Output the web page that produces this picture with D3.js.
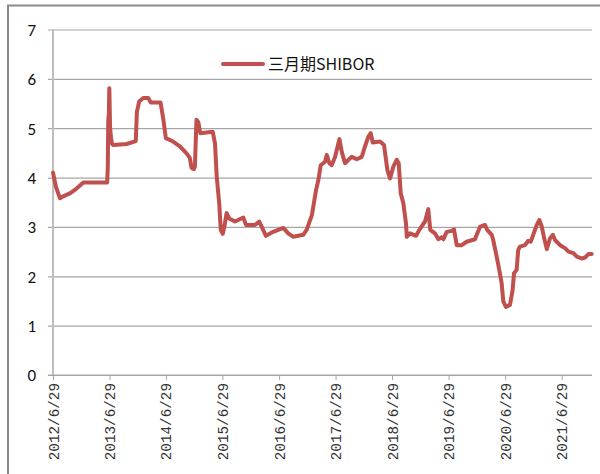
<!DOCTYPE html>
<html>
<head>
<meta charset="utf-8">
<script src="https://cdn.jsdelivr.net/npm/d3@7/dist/d3.min.js"></script>
<style>
  html, body { margin: 0; padding: 0; background: #fff; }
  svg { display: block; }
</style>
</head>
<body>
<svg id="chart" width="600" height="474"></svg>
<script>
// 3-month SHIBOR, %
const dates = [
  "2012-06-29","2012-07-18","2012-08-13","2012-09-03","2012-10-16","2012-11-17","2013-01-11",
  "2013-06-14","2013-06-18","2013-06-21","2013-06-25","2013-06-28","2013-07-03","2013-07-09","2013-07-16","2013-07-25",
  "2013-10-17","2013-12-16","2013-12-23","2014-01-07","2014-02-02","2014-03-07","2014-03-23","2014-05-25",
  "2014-06-11","2014-06-28","2014-08-14","2014-09-27","2014-11-09","2014-11-30","2014-12-11","2014-12-26",
  "2015-01-02","2015-01-12","2015-01-24","2015-02-06","2015-04-27","2015-05-12","2015-05-23","2015-06-08",
  "2015-06-18","2015-07-01","2015-07-11","2015-07-26","2015-08-12","2015-09-18","2015-11-11","2015-11-28",
  "2016-01-25","2016-02-22","2016-03-09","2016-04-05","2016-05-22","2016-07-26","2016-08-27","2016-09-29",
  "2016-12-02","2016-12-24","2017-01-27","2017-02-23","2017-03-10","2017-03-25","2017-04-22","2017-05-03",
  "2017-05-20","2017-06-04","2017-06-26","2017-07-24","2017-08-08","2017-08-29","2017-09-20","2017-10-12",
  "2017-11-13","2017-12-15","2018-01-05","2018-01-27","2018-02-11","2018-02-24","2018-04-12","2018-05-08",
  "2018-05-30","2018-06-16","2018-07-07","2018-07-29","2018-08-11","2018-08-24","2018-09-10","2018-09-27",
  "2018-10-02","2018-10-23","2018-12-01","2018-12-22","2019-01-28","2019-02-18","2019-03-03","2019-04-02",
  "2019-04-24","2019-05-16","2019-05-27","2019-06-17","2019-07-20","2019-08-03","2019-08-21","2019-09-22",
  "2019-10-24","2019-12-17","2019-12-28","2020-01-18","2020-02-19","2020-03-05","2020-04-03","2020-04-13",
  "2020-05-05","2020-05-26","2020-06-06","2020-06-17","2020-07-04","2020-07-30","2020-08-16","2020-08-25",
  "2020-09-11","2020-09-21","2020-10-02","2020-11-04","2020-11-25","2020-12-11","2020-12-27","2021-01-19",
  "2021-02-05","2021-02-21","2021-03-08","2021-03-25","2021-04-15","2021-05-03","2021-05-18","2021-06-19",
  "2021-07-21","2021-08-12","2021-09-13","2021-10-05","2021-11-06","2021-11-27","2021-12-19","2022-01-09"
];
const rates = [
  4.10, 3.81, 3.58, 3.62, 3.68, 3.75, 3.90,
  3.90, 4.20, 5.15, 5.30, 5.81, 5.00, 4.80, 4.68, 4.66,
  4.68, 4.74, 5.33, 5.54, 5.61, 5.61, 5.52, 5.52,
  5.20, 4.80, 4.73, 4.63, 4.49, 4.40, 4.20, 4.17,
  4.22, 5.17, 5.12, 4.90, 4.93, 4.69, 4.02, 3.48,
  2.94, 2.86, 3.00, 3.28, 3.17, 3.11, 3.19, 3.04,
  3.04, 3.11, 3.00, 2.82, 2.90, 2.98, 2.87, 2.80,
  2.84, 2.94, 3.24, 3.75, 3.95, 4.25, 4.32, 4.46,
  4.29, 4.25, 4.42, 4.78, 4.52, 4.29, 4.36, 4.42,
  4.37, 4.42, 4.63, 4.83, 4.90, 4.71, 4.73, 4.66,
  4.15, 3.98, 4.22, 4.36, 4.29, 3.68, 3.48, 3.07,
  2.80, 2.87, 2.82, 2.94, 3.11, 3.36, 2.94, 2.87,
  2.75, 2.79, 2.75, 2.90, 2.92, 2.95, 2.63, 2.63,
  2.70, 2.75, 2.84, 3.00, 3.04, 2.94, 2.84, 2.73,
  2.40, 2.06, 1.86, 1.49, 1.38, 1.42, 1.72, 2.06,
  2.13, 2.53, 2.60, 2.63, 2.72, 2.70, 2.84, 3.04,
  3.14, 3.00, 2.77, 2.55, 2.77, 2.84, 2.73, 2.63,
  2.57, 2.50, 2.47, 2.40, 2.36, 2.38, 2.45, 2.45
];
const tickDates = ["2012-06-29","2013-06-29","2014-06-29","2015-06-29","2016-06-29",
                   "2017-06-29","2018-06-29","2019-06-29","2020-06-29","2021-06-29"];
const yTicks = [0, 1, 2, 3, 4, 5, 6, 7];
const seriesName = "三月期SHIBOR";

const parse = d3.timeParse("%Y-%m-%d");
const fmt = d3.timeFormat("%Y/%-m/%-d");
const data = dates.map((d, i) => ({ date: parse(d), value: rates[i] }));

const svg = d3.select("#chart");
const plotLeft = 53, plotRight = 592, plotTop = 29.5, plotBottom = 375;

// outer chart frame
svg.append("rect")
  .attr("x", 8).attr("y", 5.5).attr("width", 600).attr("height", 480)
  .attr("fill", "none").attr("stroke", "#8a8a8a").attr("stroke-width", 2);

const x = d3.scaleTime()
  .domain([parse("2012-06-29"), parse("2022-01-11")])
  .range([plotLeft, plotRight]);
const y = d3.scaleLinear().domain([0, 7]).range([plotBottom, plotTop]);

// horizontal gridlines with outer tick stubs
const yAxis = d3.axisLeft(y).tickValues(yTicks).tickSizeOuter(0)
  .tickFormat(d3.format("d"));
const gy = svg.append("g").attr("transform", `translate(${plotLeft},0)`).call(yAxis);
gy.select(".domain").remove();
gy.selectAll(".tick line").attr("stroke", "#a6a6a6").attr("stroke-width", 1.2)
  .attr("x1", -5).attr("x2", plotRight - plotLeft);
gy.selectAll(".tick text")
  .attr("x", -17).attr("dy", "0.35em")
  .style("font-family", "Carlito, Lato, 'Open Sans', sans-serif")
  .style("font-size", "17px").attr("fill", "#111");

// vertical axis line
svg.append("line").attr("x1", plotLeft).attr("x2", plotLeft).attr("y1", plotTop).attr("y2", plotBottom)
  .attr("stroke", "#bfbfbf").attr("stroke-width", 2);

// x axis
const xAxis = d3.axisBottom(x).tickValues(tickDates.map(parse)).tickFormat(fmt)
  .tickSize(5).tickSizeOuter(0);
const gx = svg.append("g").attr("transform", `translate(0,${plotBottom})`).call(xAxis);
gx.select(".domain").attr("stroke", "#a6a6a6").attr("stroke-width", 1.2)
  .attr("d", `M${plotLeft - 5},0H${plotRight}`);
gx.selectAll(".tick line").attr("stroke", "#a6a6a6");
gx.selectAll(".tick text")
  .attr("transform", "rotate(-90)")
  .attr("text-anchor", "end")
  .attr("x", -8).attr("y", 0).attr("dy", "0.35em")
  .style("font-family", "'Liberation Mono', monospace")
  .style("font-size", "14.3px").attr("fill", "#333");

// series line
const line = d3.line().x(d => x(d.date)).y(d => y(d.value)).curve(d3.curveLinear);
svg.append("path").datum(data)
  .attr("d", line)
  .attr("fill", "none").attr("stroke", "#C0504D").attr("stroke-width", 4)
  .attr("stroke-linejoin", "round").attr("stroke-linecap", "round");

// legend
const lg = svg.append("g").attr("transform", "translate(223,64)");
lg.append("line").attr("x1", 0).attr("x2", 40).attr("y1", 0).attr("y2", 0)
  .attr("stroke", "#C0504D").attr("stroke-width", 4).attr("stroke-linecap", "round");
lg.append("text").attr("x", 45).attr("y", 0).attr("dy", "0.35em")
  .style("font-family", "'Noto Sans CJK SC', sans-serif").style("font-size", "16px")
  .attr("fill", "#111").text(seriesName);
</script>
</body>
</html>
